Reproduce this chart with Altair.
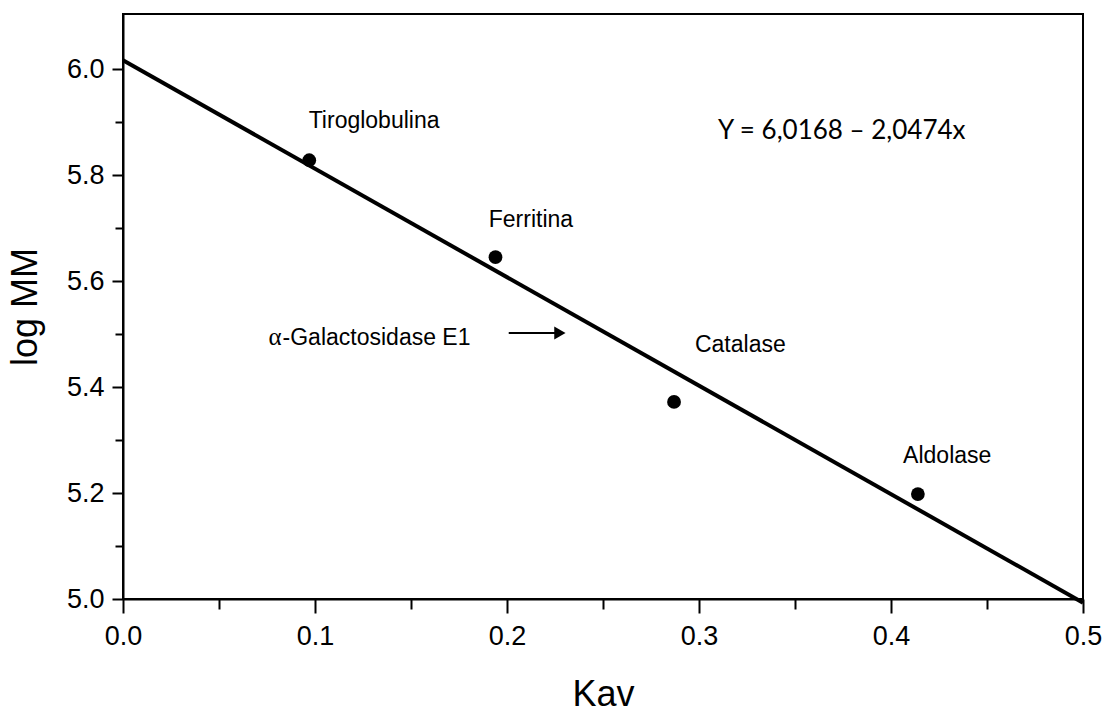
import altair as alt
import pandas as pd

# ---- data ----
proteins = ["Tiroglobulina", "Ferritina", "Catalase", "Aldolase"]
kav = [0.097, 0.194, 0.287, 0.414]
log_mm = [5.828, 5.645, 5.372, 5.198]

# regression  Y = 6,0168 - 2,0474x
intercept = 6.0168
slope = -2.0474
line_x = [0.0, 0.5]

# annotation anchors (data coordinates)
label_x = [0.0967, 0.1905, 0.2979, 0.4063]
label_y = [5.8887, 5.7019, 5.466, 5.2566]

galacto_text = "-Galactosidase E1"
galacto_x = 0.0831
galacto_y = 5.479
arrow_x = [0.2009, 0.2312]
arrow_y = 5.5019

eq_text = "Y = 6,0168 \u2013 2,0474x"
eq_x = 0.3099
eq_y = 5.868

x_ticks = [round(i * 0.05, 2) for i in range(11)]
y_ticks = [round(5.0 + i * 0.1, 1) for i in range(11)]

FONT = "Liberation Sans"

pts = pd.DataFrame({"kav": kav, "logmm": log_mm, "name": proteins,
                    "lx": label_x, "ly": label_y})
line_df = pd.DataFrame({"kav": line_x,
                        "logmm": [intercept + slope * v for v in line_x]})

xscale = alt.Scale(domain=[0, 0.5], nice=False, zero=False)
yscale = alt.Scale(domain=[5.0, 6.104], nice=False, zero=False)

xaxis = alt.Axis(
    values=x_ticks,
    labelExpr="round(datum.value*100) % 10 == 0 ? format(datum.value, '.1f') : ''",
    tickSize={"condition": {"test": "round(datum.value*100) % 10 == 0", "value": 14}, "value": 10},
    title="Kav", titlePadding=28, labelPadding=10, grid=False,
)
yaxis = alt.Axis(
    values=y_ticks,
    labelExpr="round(datum.value*10) % 2 == 0 ? format(datum.value, '.1f') : ''",
    tickSize={"condition": {"test": "round(datum.value*10) % 2 == 0", "value": 11}, "value": 8},
    title="log MM", titlePadding=22, labelPadding=8, grid=False,
)

base_x = alt.X("kav:Q", scale=xscale, axis=xaxis)
base_y = alt.Y("logmm:Q", scale=yscale, axis=yaxis)

reg = alt.Chart(line_df).mark_line(color="black", strokeWidth=4, clip=False).encode(
    x=base_x, y=base_y
)

dots = alt.Chart(pts).mark_point(filled=True, shape="circle", size=190, color="black", opacity=1).encode(
    x="kav:Q", y="logmm:Q"
)

labels = alt.Chart(pts).mark_text(align="left", baseline="alphabetic", font=FONT,
                                   fontSize=23, color="black").encode(
    x="lx:Q", y="ly:Q", text="name:N"
)

gal_df = pd.DataFrame({"x": [galacto_x], "y": [galacto_y], "t": [galacto_text], "a": ["\u03b1"]})
gal = alt.Chart(gal_df).mark_text(align="left", baseline="alphabetic", font=FONT,
                                  fontSize=23, color="black").encode(
    x="x:Q", y="y:Q", text="t:N"
)
alpha = alt.Chart(gal_df).mark_text(align="right", baseline="alphabetic", font="Liberation Serif",
                                    fontSize=25, color="black", dx=-1).encode(
    x="x:Q", y="y:Q", text="a:N"
)

arr_df = pd.DataFrame({"x": [arrow_x[0]], "x2": [arrow_x[1] - 0.006], "y": [arrow_y]})
arrow_shaft = alt.Chart(arr_df).mark_rule(color="black", strokeWidth=2).encode(
    x="x:Q", x2="x2:Q", y="y:Q"
)
head_df = pd.DataFrame({"x": [arrow_x[1]], "y": [arrow_y]})
arrow_head = alt.Chart(head_df).mark_point(shape="triangle-right", filled=True, color="black",
                                           size=170, opacity=1, xOffset=-7).encode(
    x="x:Q", y="y:Q"
)

eq_df = pd.DataFrame({"x": [eq_x], "y": [eq_y], "t": [eq_text]})
eq = alt.Chart(eq_df).mark_text(align="left", baseline="alphabetic", font="Lato",
                                fontSize=26, color="black").encode(
    x="x:Q", y="y:Q", text="t:N"
)

chart = alt.layer(reg, dots, labels, gal, alpha, arrow_shaft, arrow_head, eq).properties(
    width=960, height=585,
    autosize=alt.AutoSizeParams(type="none"),
    padding={"left": 123, "top": 14, "right": 30, "bottom": 113},
    background="white",
).configure_view(
    stroke="black", strokeWidth=2
).configure_axis(
    domainColor="black", domainWidth=2, tickColor="black", tickWidth=2,
    labelFont=FONT, labelFontSize=27, labelColor="black",
    titleFont=FONT, titleFontSize=36, titleFontWeight="normal", titleColor="black",
    labelFlush=False,
)

chart.save("out.html", embed_options={"renderer": "svg", "actions": False})
